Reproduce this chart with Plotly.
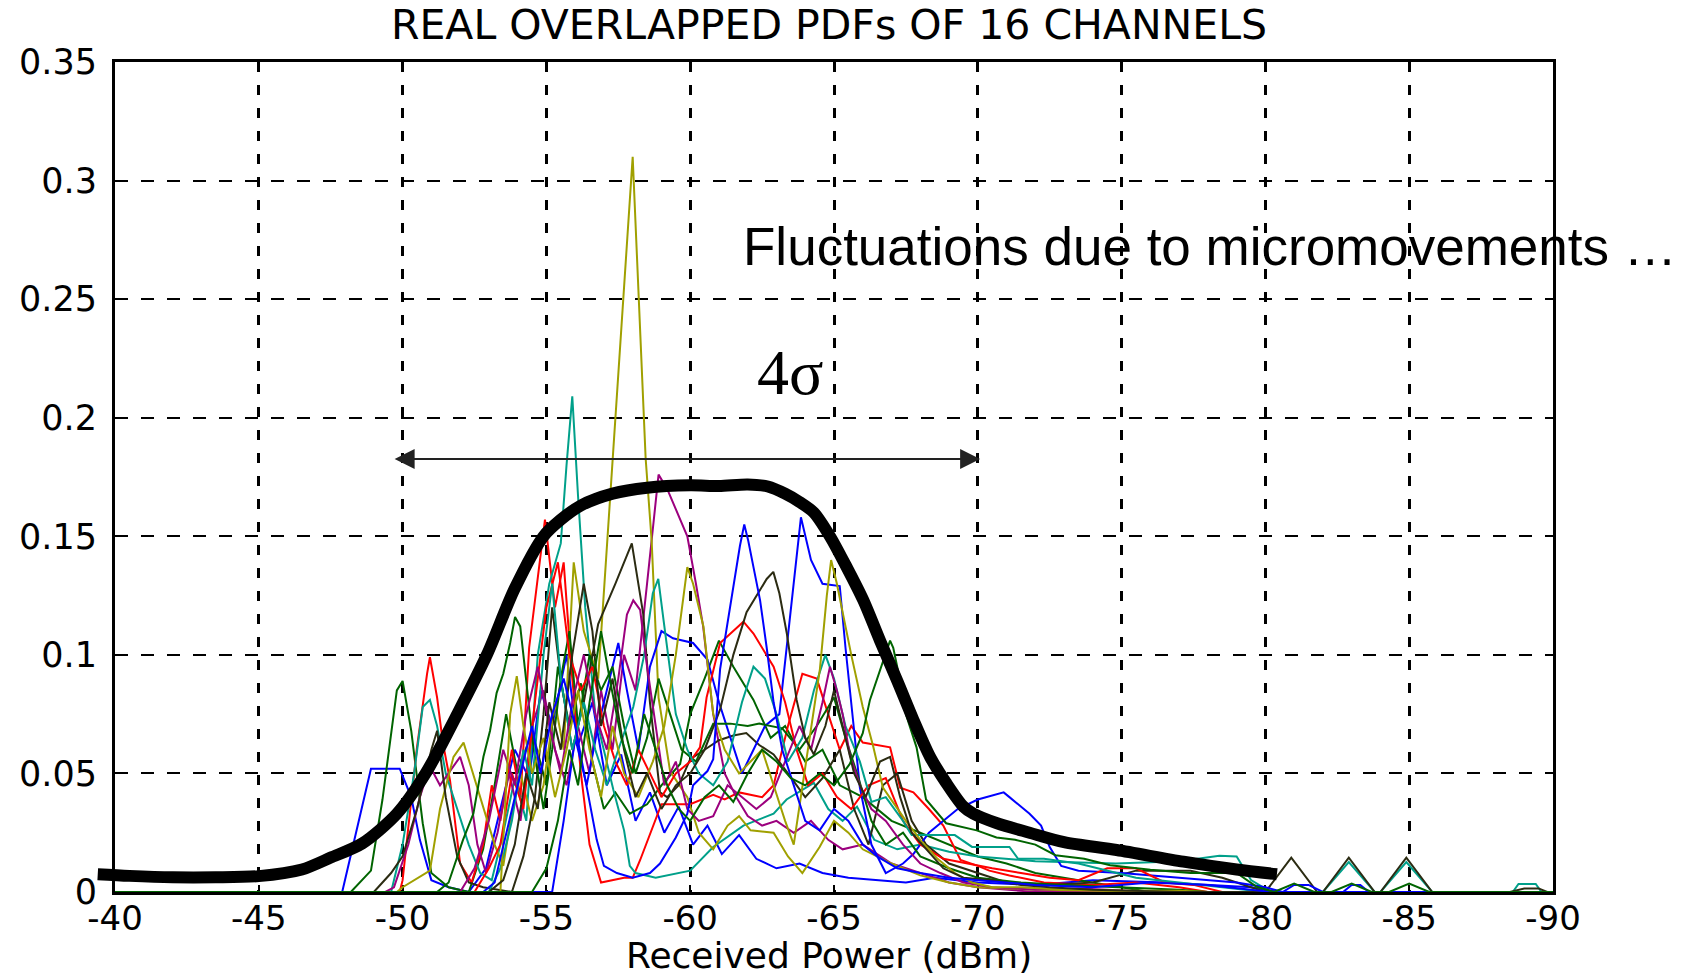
import plotly.graph_objects as go

# ---------------- data (dBm, pdf) ----------------
x_ticks = [-40, -45, -50, -55, -60, -65, -70, -75, -80, -85, -90]
x_labels = ["-40", "-45", "-50", "-55", "-60", "-65", "-70", "-75", "-80", "-85", "-90"]
y_ticks = [0, 0.05, 0.1, 0.15, 0.2, 0.25, 0.3, 0.35]
y_labels = ["0", "0.05", "0.1", "0.15", "0.2", "0.25", "0.3", "0.35"]

channel_colors = ["#0000FF", "#006400", "#FF0000", "#00A08A", "#9C007E", "#A0A000", "#2B2B12",
                  "#0000FF", "#006400", "#FF0000", "#00A08A", "#9C007E", "#A0A000", "#2B2B12",
                  "#0000FF", "#006400"]

ch01 = [(-40, 0), (-47.9, 0), (-48.9, 0.052), (-49.9, 0.052), (-50.3, 0.040), (-50.6, 0.022), (-51.0, 0.005),
        (-51.6, 0.002), (-52.3, 0.0), (-52.9, 0.010), (-53.4, 0.035), (-53.9, 0.060), (-54.4, 0.048), (-54.8, 0.085),
        (-55.2, 0.070), (-55.7, 0.100), (-56.1, 0.062), (-56.6, 0.080), (-57.1, 0.045), (-57.6, 0.058), (-58.1, 0.030),
        (-58.6, 0.042), (-59.1, 0.025), (-59.6, 0.036), (-60.1, 0.020), (-60.6, 0.028), (-61.1, 0.016), (-61.7, 0.024),
        (-62.3, 0.014), (-63.0, 0.010), (-63.8, 0.012), (-64.6, 0.008), (-65.5, 0.006), (-66.5, 0.005), (-67.5, 0.004),
        (-68.5, 0.006), (-70.0, 0.004), (-72.0, 0.003), (-74.0, 0.005), (-76.5, 0.004), (-79.5, 0.002), (-80.5, 0.0),
        (-90, 0)]
ch02 = [(-40, 0), (-48.2, 0), (-48.9, 0.009), (-49.3, 0.039), (-49.8, 0.085), (-50.0, 0.089), (-50.3, 0.068),
        (-50.7, 0.029), (-51.0, 0.008), (-51.6, 0.002), (-52.3, 0.0), (-52.8, 0.018), (-53.2, 0.045), (-53.6, 0.075),
        (-54.0, 0.05), (-54.5, 0.068), (-55.0, 0.045), (-55.4, 0.095), (-55.8, 0.07), (-56.2, 0.088), (-56.6, 0.055),
        (-57.0, 0.035), (-57.4, 0.042), (-57.9, 0.033), (-58.5, 0.037), (-59.0, 0.045), (-59.65, 0.054), (-60.0, 0.075),
        (-60.5, 0.09), (-61.0, 0.106), (-61.5, 0.095), (-62.2, 0.081), (-62.8, 0.065), (-63.3, 0.07), (-64.0, 0.055),
        (-64.6, 0.06), (-65.2, 0.045), (-66.0, 0.04), (-67.0, 0.03), (-68.0, 0.025), (-69.0, 0.02), (-70.0, 0.015),
        (-71.0, 0.012), (-72.0, 0.008), (-73.5, 0.005), (-75.0, 0.002), (-76.0, 0), (-90, 0)]
ch03 = [(-40, 0), (-49.9, 0), (-50.0, 0.005), (-50.5, 0.061), (-50.85, 0.092), (-50.95, 0.099), (-51.2, 0.082),
        (-51.4, 0.063), (-51.65, 0.047), (-52.0, 0.012), (-52.4, 0.004), (-52.8, 0.02), (-53.1, 0.045), (-53.4, 0.03),
        (-53.8, 0.06), (-54.1, 0.04), (-54.4, 0.103), (-54.95, 0.157), (-55.3, 0.12), (-55.6, 0.139), (-55.9, 0.09),
        (-56.2, 0.05), (-56.5, 0.02), (-56.9, 0.004), (-57.7, 0.006), (-58.0, 0.006), (-58.26, 0.0135), (-59.0, 0.037),
        (-59.65, 0.037), (-60.0, 0.037), (-60.8, 0.041), (-61.2, 0.039), (-61.7, 0.042), (-62.5, 0.040), (-62.9, 0.045),
        (-63.4, 0.07), (-63.9, 0.092), (-64.4, 0.09), (-64.8, 0.075), (-65.2, 0.06), (-65.6, 0.07), (-66.0, 0.063),
        (-66.95, 0.061), (-67.3, 0.044), (-67.76, 0.042), (-68.3, 0.035), (-68.8, 0.028), (-69.4, 0.0135),
        (-70.0, 0.011), (-70.4, 0.009), (-71.1, 0.007), (-72.3, 0.004), (-74.0, 0.003), (-75.5, 0.004), (-77.0, 0.002),
        (-78.0, 0), (-90, 0)]
ch04 = [(-40, 0), (-49.6, 0), (-50.0, 0.02), (-50.4, 0.05), (-50.7, 0.078), (-50.95, 0.081), (-51.2, 0.07),
        (-51.5, 0.05), (-51.9, 0.035), (-52.3, 0.02), (-52.7, 0.008), (-53.1, 0.005), (-53.5, 0.025), (-53.9, 0.048),
        (-54.3, 0.03), (-54.7, 0.1), (-55.1, 0.13), (-55.5, 0.147), (-55.7, 0.18), (-55.9, 0.209), (-56.1, 0.167),
        (-56.35, 0.12), (-56.7, 0.075), (-57.0, 0.06), (-57.33, 0.043), (-57.7, 0.026), (-57.9, 0.011), (-58.1, 0.008),
        (-58.8, 0.006), (-60.0, 0.009), (-60.8, 0.019), (-61.85, 0.028), (-62.9, 0.033), (-63.35, 0.039),
        (-64.3, 0.046), (-64.8, 0.035), (-65.3, 0.03), (-65.8, 0.036), (-66.4, 0.022), (-67.2, 0.018), (-68.0, 0.02),
        (-69.0, 0.017), (-70.0, 0.015), (-72.0, 0.013), (-74.8, 0.012), (-77.0, 0.013), (-78.4, 0.0153),
        (-79.0, 0.015), (-79.5, 0.005), (-80.2, 0.0), (-82.0, 0), (-82.9, 0.0126), (-83.8, 0), (-84.0, 0),
        (-84.9, 0.0126), (-85.8, 0), (-88.6, 0), (-88.8, 0.0034), (-89.4, 0.0034), (-89.6, 0), (-90, 0)]
ch05 = [(-40, 0), (-49.4, 0), (-49.7, 0.002), (-50.2, 0.02), (-50.6, 0.04), (-50.95, 0.053), (-51.3, 0.045),
        (-51.6, 0.05), (-52.0, 0.057), (-52.3, 0.045), (-52.6, 0.02), (-52.9, 0.008), (-53.3, 0.025), (-53.7, 0.05),
        (-54.1, 0.03), (-54.5, 0.07), (-54.9, 0.085), (-55.3, 0.06), (-55.7, 0.045), (-56.1, 0.07), (-56.5, 0.05),
        (-56.9, 0.085), (-57.3, 0.06), (-57.7, 0.1), (-58.1, 0.085), (-58.5, 0.13), (-58.9, 0.176), (-59.2, 0.17),
        (-59.9, 0.15), (-60.2, 0.13), (-60.45, 0.112), (-60.8, 0.075), (-61.2, 0.05), (-61.6, 0.04), (-62.0, 0.032),
        (-62.5, 0.028), (-63.0, 0.03), (-63.6, 0.025), (-64.2, 0.03), (-64.8, 0.022), (-65.3, 0.018), (-66.0, 0.02),
        (-67.0, 0.012), (-68.0, 0.008), (-69.0, 0.004), (-70.0, 0.002), (-71.0, 0.001), (-72.0, 0), (-90, 0)]
ch06 = [(-40, 0), (-49.8, 0), (-50.0, 0.002), (-50.95, 0.009), (-51.3, 0.035), (-51.77, 0.057), (-52.12, 0.063),
        (-52.35, 0.054), (-52.8, 0.036), (-53.2, 0.02), (-53.5, 0.011), (-53.75, 0.03), (-54.1, 0.05), (-54.5, 0.03),
        (-54.9, 0.045), (-55.3, 0.08), (-55.6, 0.06), (-55.95, 0.139), (-56.3, 0.11), (-56.8, 0.09), (-58.0, 0.310),
        (-58.45, 0.183), (-58.66, 0.148), (-58.78, 0.118), (-58.9, 0.082), (-59.3, 0.051), (-59.9, 0.04),
        (-60.3, 0.025), (-60.8, 0.018), (-61.3, 0.028), (-61.7, 0.032), (-62.1, 0.026), (-62.9, 0.025),
        (-63.4, 0.015), (-63.9, 0.008), (-64.5, 0.019), (-65.0, 0.03), (-65.5, 0.025), (-66.0, 0.018), (-67.0, 0.012),
        (-68.0, 0.007), (-69.0, 0.004), (-70.0, 0.002), (-72.0, 0.001), (-75.0, 0.0005), (-77.0, 0), (-90, 0)]
ch07 = [(-40, 0), (-49.0, 0), (-49.6, 0.008), (-50.0, 0.015), (-50.5, 0.035), (-51.0, 0.06), (-51.2, 0.068),
        (-51.5, 0.04), (-51.9, 0.015), (-52.3, 0.004), (-52.8, 0.002), (-53.3, 0.001), (-53.8, 0.0), (-54.2, 0.015),
        (-54.6, 0.04), (-54.9, 0.075), (-55.2, 0.12), (-55.5, 0.09), (-55.9, 0.06), (-56.3, 0.08), (-56.8, 0.113),
        (-57.4, 0.13), (-57.97, 0.147), (-58.37, 0.117), (-58.6, 0.08), (-58.95, 0.042), (-59.2, 0.04),
        (-59.6, 0.045), (-60.0, 0.056), (-60.5, 0.06), (-61.0, 0.064), (-61.5, 0.066), (-61.95, 0.067),
        (-62.4, 0.062), (-62.9, 0.058), (-63.4, 0.05), (-64.0, 0.04), (-64.6, 0.048), (-65.2, 0.06), (-65.7, 0.035),
        (-66.2, 0.02), (-66.7, 0.045), (-67.2, 0.05), (-67.7, 0.03), (-68.2, 0.02), (-69.0, 0.012), (-70.0, 0.008),
        (-71.0, 0.004), (-72.5, 0.003), (-74.0, 0.004), (-75.5, 0.009), (-77.4, 0.009), (-78.5, 0.006),
        (-79.5, 0.002), (-80.0, 0), (-80.9, 0.0145), (-81.8, 0), (-82.0, 0), (-82.9, 0.0145), (-83.8, 0),
        (-84.0, 0), (-84.9, 0.0145), (-85.8, 0), (-88.5, 0), (-89.0, 0.0015), (-89.5, 0.0015), (-89.8, 0), (-90, 0)]
ch08 = [(-40, 0), (-55.2, 0), (-55.6, 0.03), (-56.0, 0.065), (-56.4, 0.045), (-56.8, 0.07), (-57.2, 0.09),
        (-57.5, 0.105), (-57.8, 0.085), (-58.2, 0.06), (-58.6, 0.095), (-59.0, 0.11), (-59.4, 0.107), (-60.1, 0.105),
        (-60.6, 0.098), (-61.0, 0.08), (-61.4, 0.065), (-61.8, 0.05), (-62.2, 0.06), (-62.6, 0.07), (-63.1, 0.075),
        (-63.5, 0.12), (-63.85, 0.158), (-64.2, 0.14), (-64.6, 0.13), (-65.2, 0.129), (-65.4, 0.103), (-65.7, 0.068),
        (-65.9, 0.044), (-66.3, 0.02), (-66.8, 0.008), (-67.4, 0.012), (-67.76, 0.016), (-68.3, 0.025),
        (-69.3, 0.035), (-70.0, 0.039), (-70.65, 0.041), (-70.9, 0.042), (-71.1, 0.040), (-71.8, 0.033),
        (-72.2, 0.028), (-72.5, 0.019), (-72.9, 0.011), (-73.5, 0.009), (-75.0, 0.008), (-77.0, 0.006),
        (-79.0, 0.004), (-80.0, 0.002), (-80.6, 0), (-81.0, 0.003), (-81.5, 0.003), (-82.0, 0), (-82.7, 0),
        (-83.0, 0.003), (-83.3, 0.003), (-83.6, 0), (-90, 0)]
ch09 = [(-40, 0), (-51.2, 0), (-51.6, 0.004), (-52.1, 0.022), (-52.46, 0.033), (-52.81, 0.057), (-53.04, 0.068),
        (-53.27, 0.084), (-53.5, 0.092), (-53.74, 0.105), (-53.91, 0.116), (-54.09, 0.112), (-54.2, 0.10),
        (-54.55, 0.061), (-54.9, 0.035), (-55.2, 0.06), (-55.5, 0.09), (-55.8, 0.11), (-56.1, 0.07), (-56.5, 0.1),
        (-56.9, 0.085), (-57.3, 0.095), (-57.7, 0.07), (-58.1, 0.05), (-58.5, 0.065), (-58.9, 0.09), (-59.3, 0.075),
        (-59.7, 0.06), (-60.2, 0.055), (-60.8, 0.071), (-61.4, 0.071), (-62.0, 0.07), (-62.4, 0.071), (-63.2, 0.069),
        (-63.8, 0.06), (-64.4, 0.07), (-65.0, 0.082), (-65.4, 0.065), (-65.8, 0.05), (-66.3, 0.03), (-66.8, 0.02),
        (-67.4, 0.025), (-68.0, 0.015), (-69.0, 0.01), (-70.0, 0.006), (-71.5, 0.004), (-73.0, 0.003),
        (-75.0, 0.002), (-77.0, 0.001), (-78.0, 0), (-90, 0)]
ch10 = [(-40, 0), (-52.5, 0), (-53.0, 0.01), (-53.4, 0.02), (-53.8, 0.05), (-54.2, 0.035), (-54.6, 0.08),
        (-55.0, 0.12), (-55.4, 0.139), (-55.8, 0.1), (-56.2, 0.085), (-56.6, 0.095), (-57.0, 0.07), (-57.4, 0.055),
        (-57.8, 0.045), (-58.2, 0.06), (-58.6, 0.05), (-59.0, 0.04), (-59.5, 0.05), (-60.0, 0.055), (-60.34, 0.061),
        (-60.57, 0.082), (-61.04, 0.105), (-61.85, 0.114), (-62.2, 0.109), (-62.55, 0.102), (-62.9, 0.095),
        (-63.3, 0.08), (-63.7, 0.06), (-64.1, 0.045), (-64.6, 0.05), (-65.1, 0.04), (-65.6, 0.035), (-66.2, 0.045),
        (-66.8, 0.048), (-67.4, 0.03), (-68.0, 0.02), (-68.8, 0.014), (-69.6, 0.012), (-70.5, 0.01), (-71.5, 0.008),
        (-72.5, 0.006), (-73.5, 0.005), (-74.5, 0.01), (-75.5, 0.01), (-76.5, 0.004), (-77.5, 0.003), (-78.5, 0),
        (-90, 0)]
ch11 = [(-40, 0), (-53.0, 0), (-53.4, 0.01), (-53.8, 0.03), (-54.2, 0.06), (-54.5, 0.045), (-54.9, 0.1),
        (-55.2, 0.13), (-55.5, 0.09), (-55.9, 0.06), (-56.3, 0.08), (-56.7, 0.06), (-57.1, 0.045), (-57.5, 0.06),
        (-58.02, 0.078), (-58.4, 0.1), (-58.7, 0.126), (-58.89, 0.132), (-59.07, 0.115), (-59.5, 0.075),
        (-59.9, 0.06), (-60.3, 0.05), (-60.8, 0.045), (-61.3, 0.055), (-61.8, 0.08), (-62.2, 0.095), (-62.6, 0.09),
        (-63.0, 0.075), (-63.4, 0.055), (-63.9, 0.065), (-64.3, 0.085), (-64.7, 0.1), (-65.0, 0.09), (-65.4, 0.07),
        (-65.9, 0.055), (-66.3, 0.038), (-66.8, 0.04), (-67.4, 0.03), (-67.7, 0.024), (-69.2, 0.024),
        (-69.8, 0.019), (-71.1, 0.019), (-71.4, 0.014), (-72.3, 0.014), (-73.5, 0.012), (-74.5, 0.009),
        (-75.5, 0.006), (-77.0, 0.004), (-78.5, 0.002), (-80.0, 0), (-90, 0)]
ch12 = [(-40, 0), (-52.0, 0), (-52.5, 0.01), (-53.0, 0.03), (-53.5, 0.06), (-53.9, 0.045), (-54.3, 0.075),
        (-54.7, 0.095), (-55.1, 0.07), (-55.5, 0.05), (-55.9, 0.08), (-56.3, 0.1), (-56.7, 0.075), (-57.1, 0.06),
        (-57.5, 0.09), (-57.8, 0.117), (-58.02, 0.123), (-58.26, 0.119), (-58.49, 0.096), (-58.8, 0.07),
        (-59.1, 0.045), (-59.5, 0.055), (-59.9, 0.035), (-60.3, 0.03), (-60.8, 0.032), (-61.3, 0.045), (-61.8, 0.04),
        (-62.3, 0.035), (-62.8, 0.04), (-63.3, 0.055), (-63.8, 0.07), (-64.2, 0.06), (-64.6, 0.08), (-64.86, 0.095),
        (-65.1, 0.085), (-65.3, 0.075), (-65.55, 0.058), (-65.9, 0.045), (-66.3, 0.035), (-66.8, 0.03),
        (-67.4, 0.02), (-68.0, 0.012), (-68.7, 0.008), (-69.5, 0.004), (-70.5, 0.002), (-72.0, 0.001),
        (-73.5, 0.0015), (-74.5, 0.001), (-76.0, 0), (-90, 0)]
ch13 = [(-40, 0), (-53.4, 0), (-53.74, 0.075), (-53.97, 0.091), (-54.2, 0.07), (-54.5, 0.05), (-54.9, 0.065),
        (-55.3, 0.04), (-55.7, 0.06), (-56.1, 0.085), (-56.5, 0.06), (-56.9, 0.04), (-57.3, 0.07), (-57.7, 0.05),
        (-58.2, 0.04), (-58.7, 0.055), (-59.1, 0.07), (-59.5, 0.1), (-59.9, 0.137), (-60.1, 0.13), (-60.46, 0.112),
        (-60.8, 0.075), (-61.2, 0.06), (-61.7, 0.05), (-62.1, 0.055), (-62.5, 0.06), (-62.9, 0.045), (-63.3, 0.03),
        (-63.6, 0.02), (-64.1, 0.06), (-64.51, 0.094), (-64.75, 0.125), (-64.9, 0.14), (-65.1, 0.13),
        (-65.3, 0.118), (-65.6, 0.1), (-66.0, 0.078), (-66.37, 0.061), (-66.7, 0.044), (-67.2, 0.035),
        (-67.5, 0.03), (-68.0, 0.022), (-68.6, 0.014), (-69.2, 0.008), (-69.8, 0.004), (-70.5, 0.002),
        (-71.5, 0.002), (-73.0, 0.001), (-75.0, 0.0005), (-77.0, 0.0005), (-78.0, 0), (-90, 0)]
ch14 = [(-40, 0), (-53.0, 0), (-53.5, 0.005), (-53.9, 0.02), (-54.3, 0.05), (-54.7, 0.035), (-55.1, 0.08),
        (-55.5, 0.06), (-55.9, 0.1), (-56.3, 0.13), (-56.6, 0.11), (-56.9, 0.07), (-57.3, 0.09), (-57.7, 0.06),
        (-58.1, 0.04), (-58.5, 0.05), (-59.0, 0.035), (-59.5, 0.045), (-60.0, 0.05), (-60.5, 0.06), (-61.04, 0.077),
        (-61.5, 0.1), (-61.96, 0.118), (-62.3, 0.125), (-62.66, 0.132), (-62.89, 0.135), (-63.1, 0.126),
        (-63.36, 0.109), (-63.7, 0.081), (-64.0, 0.065), (-64.3, 0.058), (-64.7, 0.07), (-65.0, 0.085),
        (-65.3, 0.07), (-65.7, 0.05), (-66.1, 0.04), (-66.6, 0.055), (-66.95, 0.057), (-67.3, 0.04), (-67.7, 0.025),
        (-68.2, 0.018), (-68.8, 0.01), (-69.5, 0.006), (-70.5, 0.005), (-71.5, 0.003), (-72.5, 0.002),
        (-74.0, 0.001), (-76.0, 0.0005), (-77.0, 0), (-90, 0)]
ch15 = [(-40, 0), (-52.8, 0), (-53.2, 0.004), (-53.7, 0.03), (-54.1, 0.05), (-54.5, 0.07), (-54.8, 0.05),
        (-55.2, 0.075), (-55.6, 0.09), (-56.0, 0.07), (-56.4, 0.045), (-56.75, 0.022), (-57.0, 0.011),
        (-57.45, 0.008), (-58.0, 0.006), (-58.6, 0.008), (-58.95, 0.012), (-59.5, 0.023), (-59.9, 0.033),
        (-60.1, 0.045), (-60.6, 0.051), (-60.8, 0.056), (-61.04, 0.094), (-61.5, 0.129), (-61.73, 0.146),
        (-61.88, 0.155), (-62.02, 0.148), (-62.2, 0.137), (-62.43, 0.123), (-62.66, 0.103), (-62.9, 0.08),
        (-63.2, 0.06), (-63.6, 0.045), (-64.0, 0.03), (-64.5, 0.026), (-65.0, 0.035), (-65.5, 0.03), (-66.0, 0.02),
        (-66.5, 0.015), (-67.2, 0.01), (-68.0, 0.008), (-69.0, 0.006), (-70.0, 0.005), (-71.0, 0.004),
        (-72.0, 0.003), (-74.0, 0.002), (-76.0, 0.004), (-78.0, 0.003), (-79.5, 0.001), (-80.2, 0), (-90, 0)]
ch16 = [(-40, 0), (-54.5, 0), (-55.0, 0.01), (-55.4, 0.03), (-55.8, 0.06), (-56.1, 0.045), (-56.5, 0.08),
        (-56.9, 0.11), (-57.2, 0.09), (-57.6, 0.065), (-58.0, 0.05), (-58.4, 0.075), (-58.8, 0.06), (-59.2, 0.045),
        (-59.6, 0.035), (-60.0, 0.03), (-60.5, 0.04), (-61.0, 0.045), (-61.5, 0.038), (-62.0, 0.05), (-62.5, 0.06),
        (-63.0, 0.055), (-63.5, 0.048), (-64.0, 0.045), (-64.5, 0.05), (-65.0, 0.045), (-65.55, 0.054),
        (-66.0, 0.067), (-66.25, 0.081), (-66.48, 0.089), (-66.95, 0.106), (-67.06, 0.103), (-67.3, 0.089),
        (-67.5, 0.075), (-67.87, 0.061), (-68.2, 0.039), (-68.9, 0.029), (-69.96, 0.026), (-70.65, 0.023),
        (-71.3, 0.022), (-72.0, 0.02), (-72.7, 0.0155), (-73.7, 0.014), (-74.6, 0.0113), (-76.0, 0.0094),
        (-77.4, 0.008), (-79.0, 0.008), (-79.7, 0.0022), (-80.3, 0), (-81.0, 0.0035), (-81.7, 0), (-82.3, 0),
        (-83.0, 0.0035), (-83.7, 0), (-84.3, 0), (-85.0, 0.0035), (-85.7, 0), (-90, 0)]

channels = [ch01, ch02, ch03, ch04, ch05, ch06, ch07, ch08, ch09, ch10, ch11, ch12, ch13, ch14, ch15, ch16]

# hand-drawn envelope (thick black curve)
envelope = [(-39.4, 0.0075), (-40.5, 0.0068), (-42.0, 0.0062), (-43.5, 0.0062), (-45.0, 0.0067), (-46.5, 0.0095),
            (-47.5, 0.0145), (-48.6, 0.0205), (-49.8, 0.033), (-50.8, 0.05), (-51.9, 0.075), (-52.93, 0.10),
            (-53.9, 0.128), (-54.9, 0.150), (-55.5, 0.157), (-56.2, 0.163), (-57.3, 0.168), (-58.5, 0.1705),
            (-60.0, 0.1715), (-61.0, 0.1712), (-62.0, 0.1718), (-62.7, 0.171), (-63.3, 0.168), (-63.8, 0.1645),
            (-64.3, 0.16), (-64.86, 0.15), (-65.44, 0.137), (-66.02, 0.123), (-66.6, 0.106), (-67.2, 0.089),
            (-67.76, 0.0726), (-68.34, 0.057), (-68.9, 0.046), (-69.5, 0.036), (-69.85, 0.033), (-70.67, 0.029),
            (-71.8, 0.025), (-73.0, 0.021), (-74.83, 0.0177), (-77.15, 0.0128), (-79.0, 0.0095), (-80.4, 0.0075)]

arrow_span = (-49.67, -70.08)
arrow_level = 0.1826

# ---------------- layout geometry ----------------
W, H = 1692, 979
ML, MR, MT, MB = 95, 139, 62, 87
EXTRA = 20  # px of extra room to the left used by the overlay curve
plot_w = W - ML - MR
x_lo, x_hi = -40, -90
px_per_db = (plot_w - EXTRA) / abs(x_hi - x_lo)
x2_lo = x_lo + EXTRA / px_per_db

fig = go.Figure()
for ch, col in zip(channels, channel_colors):
    xs = [p[0] for p in ch]
    ys = [p[1] for p in ch]
    fig.add_trace(go.Scatter(x=xs, y=ys, mode="lines", line=dict(color=col, width=2),
                             xaxis="x", yaxis="y", hoverinfo="skip", showlegend=False))

fig.add_trace(go.Scatter(x=[p[0] for p in envelope], y=[p[1] for p in envelope], mode="lines",
                         line=dict(color="black", width=12, shape="spline", smoothing=0.8),
                         xaxis="x2", yaxis="y2", hoverinfo="skip", showlegend=False))

common = dict(showline=True, linecolor="black", linewidth=3, mirror="ticks", ticks="inside", ticklen=7,
              tickwidth=2, tickcolor="black", showgrid=True, gridcolor="black",
              zeroline=False, layer="below traces")

fig.update_layout(
    width=W, height=H, autosize=False,
    margin=dict(l=ML, r=MR, t=MT, b=MB),
    paper_bgcolor="white", plot_bgcolor="rgba(0,0,0,0)",
    showlegend=False,
    title=dict(text="REAL OVERLAPPED PDFs OF 16 CHANNELS", x=829 / W, xanchor="center",
               y=1 - 25 / H, yanchor="middle", font=dict(family="DejaVu Sans", size=41, color="black")),
    xaxis=dict(domain=[EXTRA / plot_w, 1], range=[x_lo, x_hi], tickmode="array", tickvals=x_ticks,
               ticktext=x_labels, griddash="10px,13px", gridwidth=2.5, anchor="y", ticklabelstandoff=-6,
               tickfont=dict(family="DejaVu Sans", size=34, color="black"), **common),
    yaxis=dict(domain=[0, 1], range=[0, 0.35], tickmode="array", tickvals=y_ticks, ticktext=y_labels,
               griddash="13px,13px", gridwidth=2.2, anchor="x", ticklabelstandoff=8,
               tickfont=dict(family="DejaVu Sans", size=35, color="black"), **common),
    xaxis2=dict(domain=[0, 1], range=[x2_lo, x_hi], visible=False, anchor="y2"),
    yaxis2=dict(domain=[0, 1], range=[0, 0.35], visible=False, anchor="x2"),
)

fig.add_annotation(x=arrow_span[1], y=arrow_level, ax=arrow_span[0], ay=arrow_level,
                   xref="x", yref="y", axref="x", ayref="y", text="", showarrow=True,
                   arrowhead=2, arrowside="end+start", arrowsize=2, arrowwidth=2, arrowcolor="#222222")
fig.add_annotation(x=-63.47, y=0.219, xref="x", yref="y", text="4σ", showarrow=False,
                   xanchor="center", yanchor="middle",
                   font=dict(family="Liberation Serif", size=64, color="black"))
fig.add_annotation(x=-61.75, y=0.2723, xref="x", yref="y", text="Fluctuations due to micromovements …",
                   showarrow=False, xanchor="left", yanchor="middle",
                   font=dict(family="Liberation Sans", size=53, color="black"))
fig.add_annotation(x=(829 - ML) / plot_w, y=(H - MB - 955) / (H - MT - MB), xref="paper", yref="paper",
                   text="Received Power (dBm)", showarrow=False, xanchor="center", yanchor="middle",
                   font=dict(family="DejaVu Sans", size=36, color="black"))

fig.write_html("out.html")
